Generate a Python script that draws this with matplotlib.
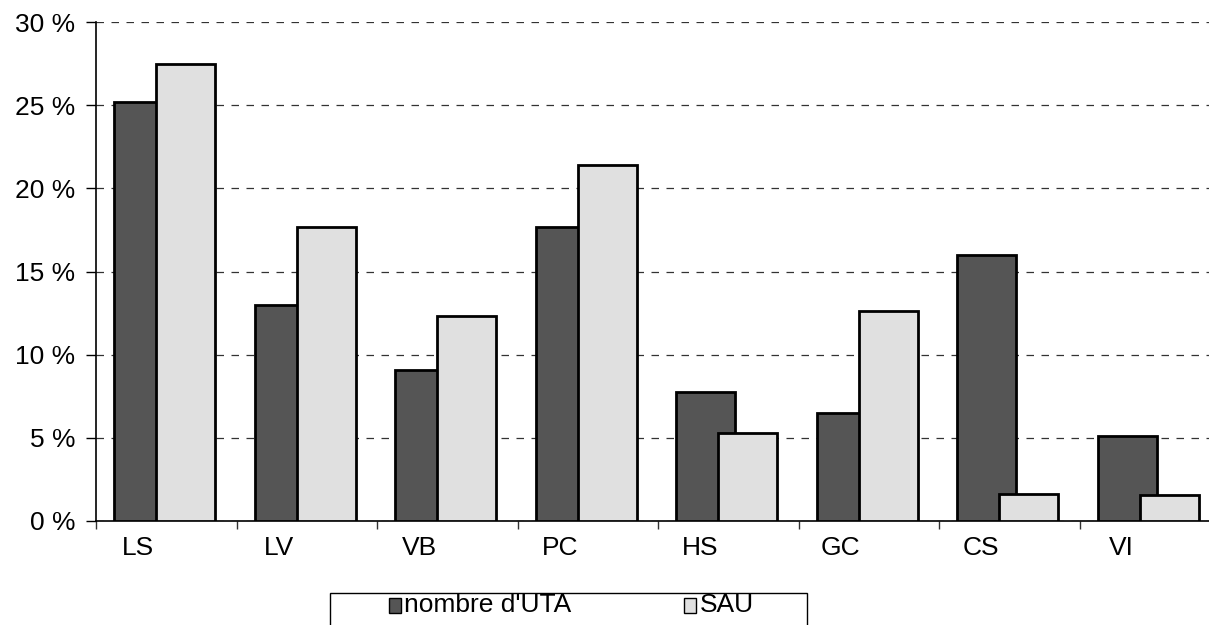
import matplotlib
matplotlib.use("Agg")
import matplotlib.pyplot as plt
from matplotlib.patches import Rectangle
import numpy as np

plt.rcParams['font.family'] = ['Liberation Sans', 'DejaVu Sans']

categories = ["LS", "LV", "VB", "PC", "HS", "GC", "CS", "VI"]
uta = [25.2, 13.0, 9.1, 17.7, 7.75, 6.5, 16.0, 5.1]
sau = [27.5, 17.7, 12.3, 21.4, 5.3, 12.6, 1.6, 1.55]
yticks = [0, 5, 10, 15, 20, 25, 30]
ytick_labels = ["0 %", "5 %", "10 %", "15 %", "20 %", "25 %", "30 %"]
series_names = ["nombre d'UTA", "SAU"]

W, H = 1209, 625
fig = plt.figure(figsize=(W / 100, H / 100), dpi=100)
ax = fig.add_axes([96 / W, 1 - 521 / H, 1113 / W, 499 / H])

x = np.arange(len(categories))
bw = 0.42
dark = "#555555"
light = "#e0e0e0"
ax.bar(x + 0.34, uta, width=bw, color=dark, edgecolor="black", linewidth=2.0,
       label=series_names[0], zorder=3)
ax.bar(x + 0.64, sau, width=bw, color=light, edgecolor="black", linewidth=2.0,
       label=series_names[1], zorder=4)

ax.set_xlim(0, 1113 / 140.5)
ax.set_ylim(0, 30)
ax.set_yticks(yticks)
ax.set_yticklabels(ytick_labels, fontsize=19)
ax.tick_params(axis='y', length=7, width=1, pad=8, color='black')

ax.set_xticks(np.arange(len(categories)))
ax.set_xticklabels([])
ax.tick_params(axis='x', which='major', length=6, width=1, color='#333333')
ax.set_xticks(x + 0.3, minor=True)
ax.set_xticklabels(categories, minor=True, fontsize=19)
ax.tick_params(axis='x', which='minor', length=0, pad=11)

for s in ["top", "right"]:
    ax.spines[s].set_visible(False)
ax.spines["left"].set_linewidth(1.2)
ax.spines["bottom"].set_linewidth(1.2)

ax.yaxis.grid(True, linestyle=(0, (6, 6)), color="#333333", linewidth=0.9, zorder=1)
ax.set_axisbelow(True)

# legend box (manual, partially cut off at the bottom)
fig.patches.append(Rectangle((330 / W, 1 - 640 / H), 477 / W, 47 / H,
                             transform=fig.transFigure, facecolor="white",
                             edgecolor="black", linewidth=1.0))
fig.patches.append(Rectangle((389 / W, 1 - 613 / H), 12 / W, 15 / H,
                             transform=fig.transFigure, facecolor=dark,
                             edgecolor="black", linewidth=1.0))
fig.text(404 / W, 1 - 605 / H, series_names[0], fontsize=19, va="center", ha="left")
fig.patches.append(Rectangle((684 / W, 1 - 613 / H), 12 / W, 15 / H,
                             transform=fig.transFigure, facecolor=light,
                             edgecolor="black", linewidth=1.0))
fig.text(700 / W, 1 - 605 / H, series_names[1], fontsize=19, va="center", ha="left")

fig.savefig("out.png", dpi=100)
